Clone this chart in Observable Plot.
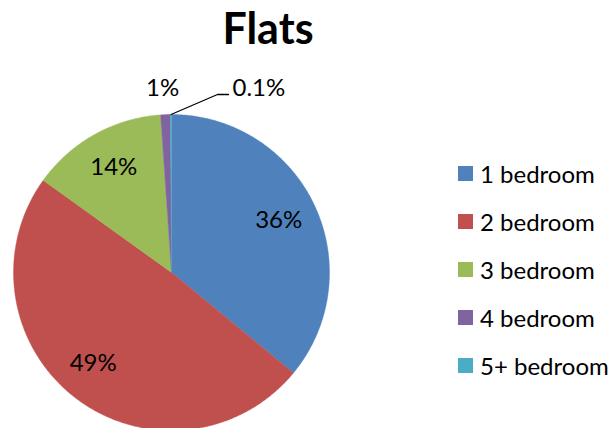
<!DOCTYPE html>
<html>
<head>
<meta charset="utf-8">
<script src="https://cdn.jsdelivr.net/npm/d3@7"></script>
<script src="https://cdn.jsdelivr.net/npm/@observablehq/plot@0.6"></script>
<style>
  html, body { margin: 0; padding: 0; background: #fff; }
  #chart { position: relative; width: 614px; height: 428px; overflow: hidden; font-family: Lato, "Open Sans", sans-serif; }
  #title { width: 536px; height: 60px; text-align: center; font-weight: bold; font-size: 43px; line-height: 56px; color: #000; }
  #legend { position: absolute; left: 458px; top: 149px; }
  .item { height: 48px; display: flex; align-items: center; font-size: 24px; color: #000; }
  .sw { width: 15px; height: 15px; margin-right: 7px; }
</style>
</head>
<body>
<div id="chart">
  <div id="title">Flats</div>
  <div id="legend"></div>
</div>
<script>
const categories = ["1 bedroom", "2 bedroom", "3 bedroom", "4 bedroom", "5+ bedroom"];
const shares = [36, 49, 14, 1, 0.1];
const labels = ["36%", "49%", "14%", "1%", "0.1%"];
const colors = ["#4F81BD", "#C0504D", "#9BBB59", "#8064A2", "#4BACC6"];

const W = 614, H = 368;
const cx = 171, cy = 212, R = 158;

const pie = d3.pie().sort(null).value((d) => d.v)(categories.map((c, i) => ({c, v: shares[i], label: labels[i]})));

// slice polygons
const pts = [];
for (const s of pie) {
  const a0 = s.startAngle, a1 = s.endAngle;
  const n = Math.max(2, Math.ceil((a1 - a0) / (Math.PI / 360)));
  pts.push({cat: s.data.c, x: 0, y: 0});
  for (let k = 0; k <= n; k++) {
    const a = a0 + (a1 - a0) * k / n;
    pts.push({cat: s.data.c, x: R * Math.sin(a), y: R * Math.cos(a)});
  }
  pts.push({cat: s.data.c, x: 0, y: 0});
}

// labels: large slices inside at 0.75R, small ones outside
const inside = [], outside = [];
pie.forEach((s, i) => {
  const m = (s.startAngle + s.endAngle) / 2;
  if (i < 3) inside.push({x: 0.75 * R * Math.sin(m) - (i === 1 ? 6 : 0), y: 0.75 * R * Math.cos(m) + (i === 1 ? 3 : 2), t: s.data.label});
  else outside.push({m, t: s.data.label});
});
const outR = R + 26;
const lbl1 = outside[0];
const lbl2 = outside[1];
const outsideMid = [{x: outR * Math.sin(lbl1.m) - 2, y: outR * Math.cos(lbl1.m), t: lbl1.t}];
const outsideStart = [{x: 61, y: outR, t: lbl2.t}];
const leader = [
  {x: R * Math.sin(lbl2.m), y: R * Math.cos(lbl2.m)},
  {x: 46, y: R + 20},
  {x: 57, y: R + 20}
];

const plot = Plot.plot({
  width: W, height: H,
  margin: 0,
  x: {domain: [-cx, W - cx], axis: null},
  y: {domain: [-(H - cy), cy], axis: null},
  color: {domain: categories, range: colors},
  style: {fontFamily: "Lato, 'Open Sans', sans-serif", background: "transparent", overflow: "visible"},
  marks: [
    Plot.line(pts, {x: "x", y: "y", z: "cat", fill: "cat", stroke: "cat", strokeWidth: 0.4, curve: "linear"}),
    Plot.text(inside, {x: "x", y: "y", text: "t", fontSize: 24, fill: "#000"}),
    Plot.text(outsideMid, {x: "x", y: "y", text: "t", fontSize: 24, fill: "#000", textAnchor: "middle"}),
    Plot.text(outsideStart, {x: "x", y: "y", text: "t", fontSize: 24, fill: "#000", textAnchor: "start"}),
    Plot.line(leader, {x: "x", y: "y", stroke: "#000", strokeWidth: 1.3})
  ]
});
document.getElementById("chart").appendChild(plot);

const legend = document.getElementById("legend");
categories.forEach((c, i) => {
  const it = document.createElement("div");
  it.className = "item";
  const sw = document.createElement("div");
  sw.className = "sw";
  sw.style.background = colors[i];
  const tx = document.createElement("span");
  tx.textContent = c;
  it.appendChild(sw); it.appendChild(tx);
  legend.appendChild(it);
});
</script>
</body>
</html>
